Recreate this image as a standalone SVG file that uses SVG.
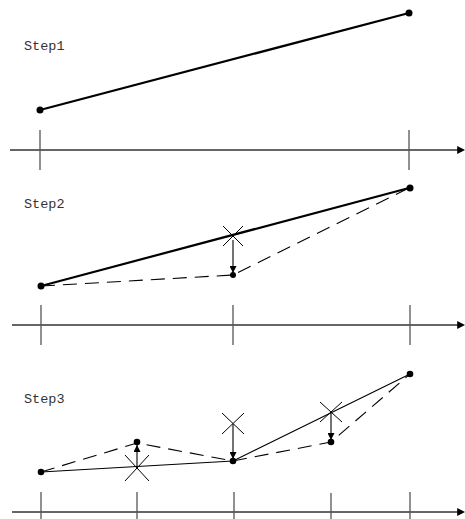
<svg xmlns="http://www.w3.org/2000/svg" width="465" height="519" viewBox="0 0 465 519">
<style>
.lbl{font-family:"Liberation Mono","DejaVu Sans Mono",monospace;font-size:13.5px;fill:#333}
.axis{stroke:#333;stroke-width:1.3;fill:none}
.tick{stroke:#555;stroke-width:1.3}
.thick{stroke:#000;stroke-width:2.2;fill:none}
.thin{stroke:#000;stroke-width:1.1;fill:none}
.dash{stroke:#000;stroke-width:1.1;fill:none;stroke-dasharray:14 8}
.x{stroke:#000;stroke-width:1}
.dot{fill:#000}
</style>
<defs>
<marker id="ah" viewBox="0 0 10 10" refX="10" refY="5" markerWidth="7" markerHeight="7" orient="auto" markerUnits="userSpaceOnUse"><path d="M0,0 L10,5 L0,10 z" fill="#000"/></marker>
<marker id="aa" viewBox="0 0 10 10" refX="6" refY="5" markerWidth="8" markerHeight="8" orient="auto" markerUnits="userSpaceOnUse"><path d="M0,0 L10,5 L0,10 z" fill="#000"/></marker>
</defs>
<g id="labels">
<text class="lbl" x="24" y="50">Step1</text>
<text class="lbl" x="24" y="208">Step2</text>
<text class="lbl" x="24" y="403">Step3</text>
</g>
<g id="axes">
<line class="axis" x1="10" y1="150" x2="462" y2="150" marker-end="url(#aa)"/>
<line class="tick" x1="40" y1="130" x2="40" y2="170"/>
<line class="tick" x1="409" y1="130" x2="409" y2="170"/>
<line class="axis" x1="12" y1="325" x2="462" y2="325" marker-end="url(#aa)"/>
<line class="tick" x1="41" y1="305" x2="41" y2="345"/>
<line class="tick" x1="233" y1="305" x2="233" y2="345"/>
<line class="tick" x1="410" y1="305" x2="410" y2="345"/>
<line class="axis" x1="12" y1="512" x2="462" y2="512" marker-end="url(#aa)"/>
<line class="tick" x1="41" y1="492" x2="41" y2="519"/>
<line class="tick" x1="137" y1="492" x2="137" y2="519"/>
<line class="tick" x1="234" y1="492" x2="234" y2="519"/>
<line class="tick" x1="331" y1="493" x2="331" y2="519"/>
<line class="tick" x1="410" y1="492" x2="410" y2="519"/>
</g>
<g id="connectors">
<line class="thick" x1="40" y1="110" x2="409" y2="13"/>
<line class="thick" x1="41" y1="286" x2="409" y2="188"/>
<polyline class="dash" points="41,286 233,275 409,188"/>
<line class="thin" x1="233" y1="240" x2="233" y2="273" marker-end="url(#ah)"/>
<polyline class="thin" points="41,472 233,461 410,374"/>
<polyline class="dash" points="41,472 137,443 233,461 331,442 410,374"/>
<line class="thin" x1="137" y1="467" x2="137" y2="445" marker-end="url(#ah)"/>
<line class="thin" x1="233" y1="424" x2="233" y2="459" marker-end="url(#ah)"/>
<line class="thin" x1="331" y1="412" x2="331" y2="440" marker-end="url(#ah)"/>
</g>
<g id="marks">
<path class="x" d="M223,226 L243,246 M243,226 L223,246"/>
<path class="x" d="M125,455 L149,481 M149,455 L125,481"/>
<path class="x" d="M222,413 L244,434 M244,413 L222,434"/>
<path class="x" d="M320,402 L342,422 M342,402 L320,422"/>
</g>
<g id="points">
<circle class="dot" cx="40" cy="110" r="3.5"/>
<circle class="dot" cx="409" cy="13" r="3.5"/>
<circle class="dot" cx="41" cy="286" r="3.5"/>
<circle class="dot" cx="410" cy="188" r="3.5"/>
<circle class="dot" cx="233" cy="275" r="3"/>
<circle class="dot" cx="41" cy="472" r="3.3"/>
<circle class="dot" cx="137" cy="442" r="3.3"/>
<circle class="dot" cx="233" cy="461" r="3.3"/>
<circle class="dot" cx="331" cy="442" r="3.3"/>
<circle class="dot" cx="410" cy="374" r="3.3"/>
</g>
</svg>
